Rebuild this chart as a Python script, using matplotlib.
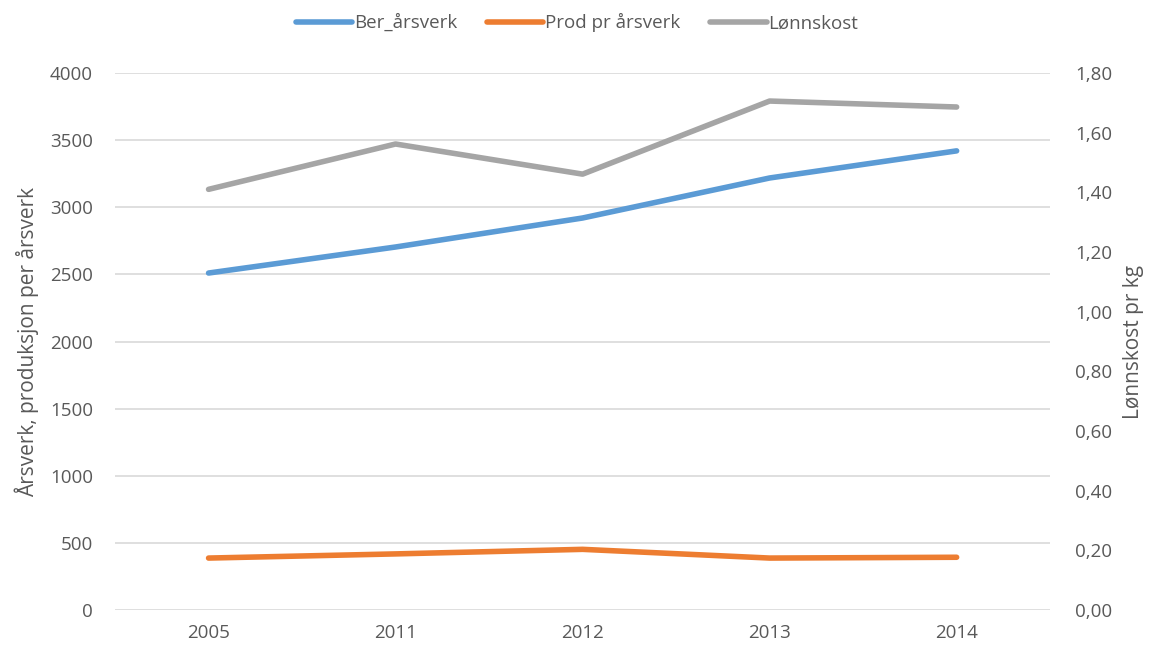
import matplotlib.pyplot as plt
from matplotlib.ticker import FuncFormatter, MultipleLocator

plt.rcParams['font.family'] = ['Open Sans', 'DejaVu Sans']

years = ['2005', '2011', '2012', '2013', '2014']
ber_arsverk = [2510, 2704, 2920, 3218, 3420]
prod_pr_arsverk = [387, 418, 452, 387, 393]
lonnskost = [1.41, 1.562, 1.461, 1.706, 1.686]

text_col = '#595959'
grid_col = '#d9d9d9'

fig = plt.figure(figsize=(11.54, 6.5), dpi=100)
ax = fig.add_axes([0.0997, 0.0615, 0.8103, 0.8262])
ax2 = ax.twinx()

x = range(len(years))
l1, = ax.plot(x, ber_arsverk, color='#5b9bd5', lw=4, solid_capstyle='round', label='Ber_årsverk')
l2, = ax.plot(x, prod_pr_arsverk, color='#ed7d31', lw=4, solid_capstyle='round', label='Prod pr årsverk')
l3, = ax2.plot(x, lonnskost, color='#a5a5a5', lw=4, solid_capstyle='round', label='Lønnskost')

ax.set_xlim(-0.5, len(years) - 0.5)
ax.set_ylim(0, 4000)
ax2.set_ylim(0, 1.8)
ax.yaxis.set_major_locator(MultipleLocator(500))
ax2.yaxis.set_major_locator(MultipleLocator(0.2))
ax2.yaxis.set_major_formatter(FuncFormatter(lambda v, p: f'{v:.2f}'.replace('.', ',')))
ax.set_xticks(list(x))
ax.set_xticklabels(years)

ax.grid(axis='y', color=grid_col, lw=1.2)
ax.set_axisbelow(True)
for a in (ax, ax2):
    for s in a.spines.values():
        s.set_visible(False)
    a.tick_params(length=0, colors=text_col, labelsize=13.5)
ax.tick_params(axis='y', pad=16)
ax2.tick_params(axis='y', pad=18)
ax.tick_params(axis='x', pad=10)

ax.set_ylabel('Årsverk, produksjon per årsverk', color=text_col, fontsize=15, labelpad=8)
ax2.set_ylabel('Lønnskost pr kg', color=text_col, fontsize=15, labelpad=8)

fig.legend(handles=[l1, l2, l3], loc='center', bbox_to_anchor=(0.5, 0.965), ncol=3,
           frameon=False, fontsize=13.5, labelcolor=text_col, handlelength=3.0,
           handletextpad=0.1, columnspacing=1.6)

fig.savefig('out.png', dpi=100)
